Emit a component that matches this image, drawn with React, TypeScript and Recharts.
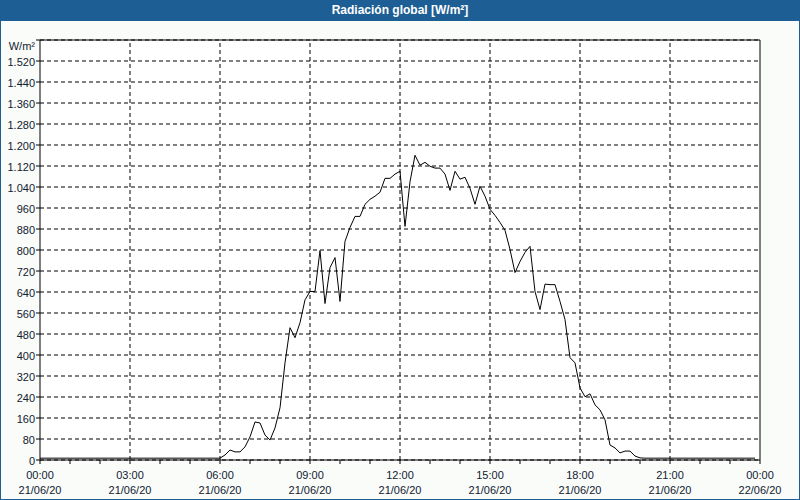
import React from "react";
import { LineChart, Line, XAxis, YAxis, CartesianGrid, ReferenceLine } from "recharts";

// 10-minute samples of global radiation (W/m²), 00:00 → 23:50, 21/06/20
const nightBefore: number[] = Array.from({ length: 37 }, () => 7);
const daytime: number[] = [
  19, 38, 31, 31, 50, 88, 145, 141, 95, 76, 122, 199, 370, 504, 466, 523, 610, 642, 642, 798,
  596, 733, 771, 604, 833, 886, 928, 928, 974, 993, 1005, 1020, 1073, 1073, 1089, 1100, 890, 1060,
  1161, 1123, 1134, 1119, 1112, 1112, 1089, 1027, 1100, 1070, 1077, 1035, 974, 1043, 1005, 955,
  932, 905, 875, 802, 714, 756, 791, 814, 642, 573, 670, 668, 668, 604, 535, 390, 370, 275, 241,
  252, 210, 191, 153, 57, 46, 27, 34, 34, 15, 8,
];
const nightAfter: number[] = Array.from({ length: 23 }, () => 7);
const radiation: number[] = [...nightBefore, ...daytime, ...nightAfter];

const timeTicks: number[] = Array.from({ length: 25 }, (_, h) => h * 60);
const majorTimes: number[] = [180, 360, 540, 720, 900, 1080, 1260];
const valueTicks: number[] = Array.from({ length: 21 }, (_, k) => k * 80);

const data = radiation.map((v, i) => ({ t: i * 10, v }));

const FONT = "'Liberation Sans', Arial, sans-serif";
const TEXT = "#102030";
const BLUE = "#1d5e94";

const fmtY = (v: number) => {
  if (v >= 1000) {
    const s = String(v);
    return s.slice(0, s.length - 3) + "." + s.slice(s.length - 3);
  }
  return String(v);
};

const XTick = (props: any) => {
  const { x, y, payload } = props;
  const val: number = payload.value;
  if (val % 180 !== 0) return <g />;
  const hh = Math.floor(val / 60) % 24;
  const time = String(hh).padStart(2, "0") + ":00";
  const date = val >= 1440 ? "22/06/20" : "21/06/20";
  return (
    <g>
      <text x={x} y={y} dy={13} textAnchor="middle" fill={TEXT} fontSize={11} fontFamily={FONT}>
        {time}
      </text>
      <text x={x} y={y} dy={28} textAnchor="middle" fill={TEXT} fontSize={11} fontFamily={FONT}>
        {date}
      </text>
    </g>
  );
};

const YTick = (props: any) => {
  const { x, y, payload } = props;
  const val: number = payload.value;
  if (val === 1600) {
    return (
      <text x={x} y={y} dy={10} textAnchor="end" fill={TEXT} fontSize={11} fontFamily={FONT}>
        W/m²
      </text>
    );
  }
  return (
    <text x={x} y={y} dy={5} textAnchor="end" fill={TEXT} fontSize={11} fontFamily={FONT}>
      {fmtY(val)}
    </text>
  );
};

export default function App() {
  return (
    <div
      style={{
        position: "fixed",
        left: 0,
        top: 0,
        width: 800,
        height: 500,
        background: "#fafcfa",
        overflow: "hidden",
      }}
    >
      <div style={{ position: "absolute", left: 0, top: 0 }}>
        <LineChart width={800} height={500} data={data} margin={{ top: 40, right: 40, bottom: 0, left: 0 }}>
          <CartesianGrid
            vertical={false}
            stroke="#000"
            strokeDasharray="4 3"
            fill="#ffffff"
            fillOpacity={1}
          />
          {majorTimes.map((m) => (
            <ReferenceLine key={m} x={m} stroke="#000" strokeDasharray="4 3" />
          ))}
          <ReferenceLine y={1600} stroke="#000" />
          <ReferenceLine x={1440} stroke="#000" />
          <XAxis
            dataKey="t"
            type="number"
            domain={[0, 1440]}
            ticks={timeTicks}
            interval={0}
            height={40}
            tickSize={4}
            tickMargin={2}
            axisLine={{ stroke: "#000" }}
            tickLine={{ stroke: "#000" }}
            tick={<XTick />}
          />
          <YAxis
            type="number"
            domain={[0, 1600]}
            ticks={valueTicks}
            interval={0}
            width={40}
            tickSize={4}
            tickMargin={1}
            axisLine={{ stroke: "#000" }}
            tickLine={{ stroke: "#000" }}
            tick={<YTick />}
          />
          <Line
            dataKey="v"
            type="linear"
            stroke="#000"
            strokeWidth={1}
            dot={false}
            isAnimationActive={false}
          />
        </LineChart>
      </div>
      <div
        style={{
          position: "absolute",
          left: 0,
          top: 0,
          width: 800,
          height: 21,
          background: BLUE,
          color: "#fff",
          fontFamily: FONT,
          fontWeight: "bold",
          fontSize: 12,
          lineHeight: "21px",
          textAlign: "center",
        }}
      >
        Radiación global [W/m²]
      </div>
      <div
        style={{
          position: "absolute",
          left: 0,
          top: 0,
          width: 800,
          height: 500,
          boxSizing: "border-box",
          border: `1px solid ${BLUE}`,
          pointerEvents: "none",
        }}
      />
    </div>
  );
}
